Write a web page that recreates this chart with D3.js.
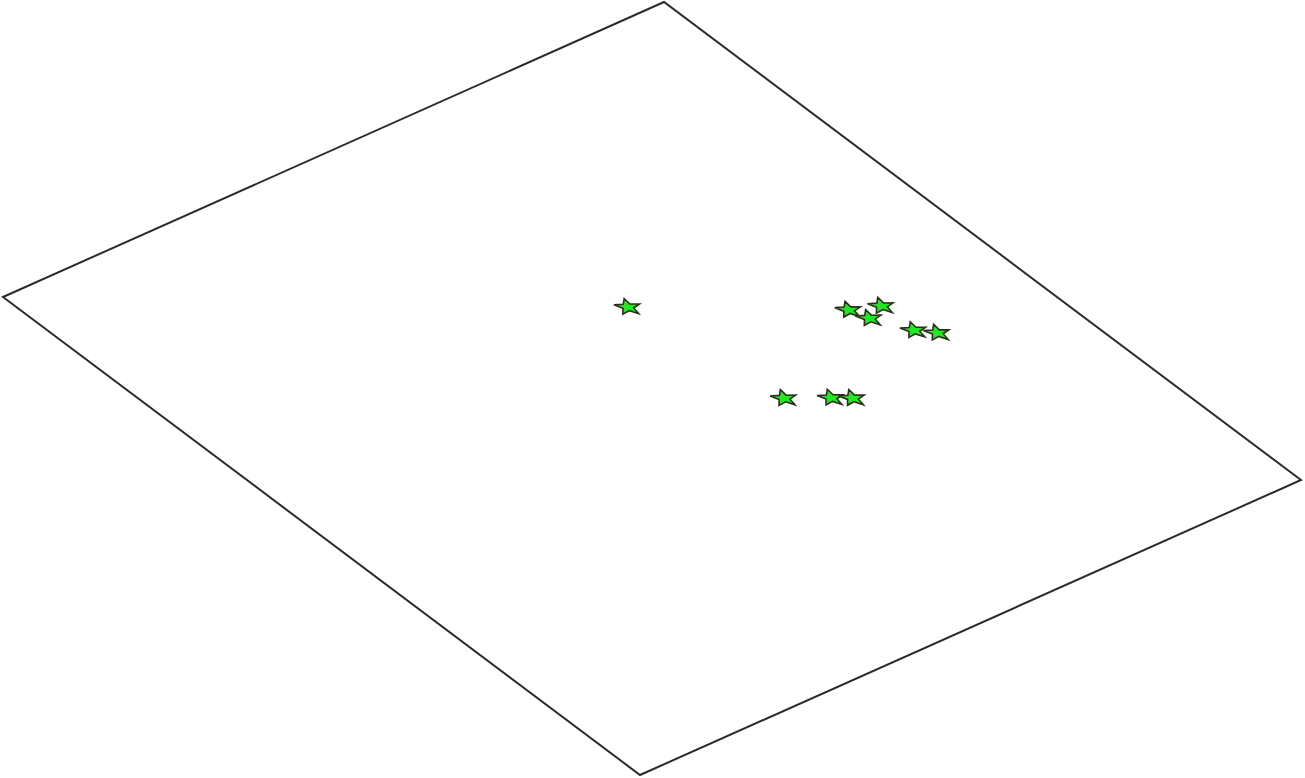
<!DOCTYPE html>
<html>
<head>
<meta charset="utf-8">
<script src="https://cdn.jsdelivr.net/npm/d3@7"></script>
<style>
html,body{margin:0;padding:0;background:#fff;}
svg{display:block;}
</style>
</head>
<body>
<svg id="chart" width="1305" height="778"></svg>
<script>
// Data: point positions on the flat plane (0-100 in each plane direction)
const pointNames = ["P1","P2","P3","P4","P5","P6","P7","P8","P9"];
const pointX = [37.9, 51.2, 52.6, 53.5, 57.7, 59.4, 59.0, 61.7, 63.0];
const pointY = [58.0, 78.6, 82.2, 79.5, 82.2, 84.1, 61.3, 65.8, 67.8];
const planeDomain = [0, 100];

const svg = d3.select("#chart");

// Plane corners on screen (projection of the flat square)
const origin = [3, 297];      // (x=0,y=0)
const axisY = [661, -295];    // direction of y
const axisX = [637, 478];     // direction of x

const sx = d3.scaleLinear().domain(planeDomain).range([0, 1]);
const sy = d3.scaleLinear().domain(planeDomain).range([0, 1]);

function project(u, v) {
  return [origin[0] + u * axisY[0] + v * axisX[0],
          origin[1] + u * axisY[1] + v * axisX[1]];
}

// Plane outline
const corners = [[0,0],[1,0],[1,1],[0,1]].map(([u,v]) => project(u,v));
svg.append("path")
  .attr("d", d3.line()(corners) + "Z")
  .attr("fill", "none")
  .attr("stroke", "#2b2b2b")
  .attr("stroke-width", 2)
  .attr("stroke-linejoin", "miter");

// Stars lying in the plane
const R = 0.0152, r = R * 0.42;
const rot = -1.07;
function starPath(u0, v0) {
  const pts = [];
  for (let i = 0; i < 10; i++) {
    const rad = i % 2 === 0 ? R : r;
    const a = rot + i * Math.PI / 5;
    pts.push(project(u0 + rad * Math.cos(a), v0 + rad * Math.sin(a)));
  }
  return d3.line()(pts) + "Z";
}

const data = pointNames.map((n, i) => ({name: n, x: pointX[i], y: pointY[i]}));
svg.append("g").selectAll("path")
  .data(data)
  .join("path")
  .attr("d", d => starPath(sy(d.y), sx(d.x)))
  .attr("fill", "#22e822")
  .attr("stroke", "#2f2d1c")
  .attr("stroke-width", 1.6)
  .attr("stroke-linejoin", "miter");
</script>
</body>
</html>
